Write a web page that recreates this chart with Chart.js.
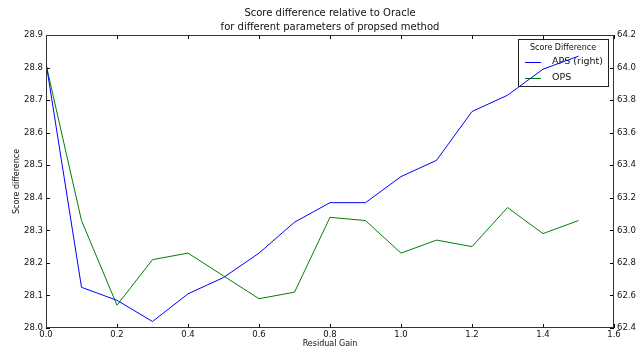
<!DOCTYPE html>
<html>
<head>
<meta charset="utf-8">
<script src="https://cdn.jsdelivr.net/npm/chart.js@4/dist/chart.umd.min.js"></script>
<style>
  html, body { margin: 0; padding: 0; background: #fff; }
  #wrap { width: 644px; height: 349px; }
</style>
</head>
<body>
<div id="wrap"><canvas id="chart"></canvas></div>
<script>
// values
const gains = [0.0, 0.1, 0.2, 0.3, 0.4, 0.5, 0.6, 0.7, 0.8, 0.9, 1.0, 1.1, 1.2, 1.3, 1.4, 1.5];
const aps = [64.03, 62.65, 62.57, 62.44, 62.61, 62.71, 62.86, 63.05, 63.17, 63.17, 63.33, 63.43, 63.73, 63.83, 63.99, 64.07];
const ops = [28.81, 28.33, 28.07, 28.21, 28.23, 28.16, 28.09, 28.11, 28.34, 28.33, 28.23, 28.27, 28.25, 28.37, 28.29, 28.33];
const legendTitle = 'Score Difference';

const FONT = 'DejaVu Sans';
const pts = (ys) => gains.map((g, i) => ({ x: g, y: ys[i] }));

// matplotlib-ish inward ticks on every side + legend box
const mplBits = {
  id: 'mplBits',
  beforeDatasetsDraw(chart) {
    // legend, upper right (the right-axis line is drawn over it, like twinx)
    const { ctx, chartArea: a } = chart;
    const bx = Math.round(a.right) - 96, by = Math.round(a.top) + 4, bw = 90, bh = 47;
    ctx.save();
    ctx.fillStyle = '#fff';
    ctx.fillRect(bx, by, bw, bh);
    ctx.strokeStyle = '#222';
    ctx.lineWidth = 1;
    ctx.strokeRect(bx + 0.5, by + 0.5, bw, bh);
    ctx.fillStyle = '#111';
    ctx.textBaseline = 'middle';
    ctx.textAlign = 'center';
    ctx.font = '8px ' + FONT;
    ctx.fillText(legendTitle, bx + bw / 2, by + 9);
    ctx.textAlign = 'left';
    ctx.font = '9.5px ' + FONT;
    chart.data.datasets.forEach((ds, i) => {
      const ly = by + 23 + i * 16;
      ctx.strokeStyle = ds.borderColor;
      ctx.beginPath();
      ctx.moveTo(bx + 7, ly + 0.5); ctx.lineTo(bx + 23, ly + 0.5);
      ctx.stroke();
      ctx.fillText(ds.label, bx + 34, ly);
    });
    ctx.restore();
  },
  afterDraw(chart) {
    const { ctx, chartArea: a, scales } = chart;
    ctx.save();
    ctx.strokeStyle = '#000';
    ctx.lineWidth = 1;
    ctx.beginPath();
    scales.x.ticks.forEach(t => {
      const px = Math.round(scales.x.getPixelForValue(t.value)) + 0.5;
      ctx.moveTo(px, a.bottom); ctx.lineTo(px, a.bottom - 4);
      ctx.moveTo(px, a.top); ctx.lineTo(px, a.top + 4);
    });
    scales.y.ticks.forEach(t => {
      const py = Math.round(scales.y.getPixelForValue(t.value)) + 0.5;
      ctx.moveTo(a.left, py); ctx.lineTo(a.left + 4, py);
    });
    scales.y2.ticks.forEach(t => {
      const py = Math.round(scales.y2.getPixelForValue(t.value)) + 0.5;
      ctx.moveTo(a.right, py); ctx.lineTo(a.right - 4, py);
    });
    ctx.stroke();
    // frame
    ctx.strokeStyle = '#333';
    ctx.strokeRect(Math.round(a.left) + 0.5, Math.round(a.top) + 0.5,
      Math.round(a.right - a.left) - 1, Math.round(a.bottom - a.top) - 1);
    ctx.restore();
  }
};

const tickFont = { family: FONT, size: 8.5 };

new Chart(document.getElementById('chart'), {
  type: 'line',
  data: {
    datasets: [
      {
        label: 'APS (right)',
        data: pts(aps),
        yAxisID: 'y2',
        borderColor: '#0000ff',
        borderWidth: 1,
        pointRadius: 0,
        tension: 0,
        fill: false
      },
      {
        label: 'OPS',
        data: pts(ops),
        yAxisID: 'y',
        borderColor: '#008000',
        borderWidth: 1,
        pointRadius: 0,
        tension: 0,
        fill: false
      }
    ]
  },
  options: {
    responsive: true,
    maintainAspectRatio: false,
    animation: false,
    layout: { padding: 0 },
    plugins: {
      legend: { display: false },
      tooltip: { enabled: false },
      title: {
        display: true,
        fullSize: false,
        text: ['Score difference relative to Oracle', 'for different parameters of propsed method'],
        color: '#111',
        font: { family: FONT, size: 10, weight: 'normal', lineHeight: 1.4 },
        padding: { top: 6, bottom: 1 }
      }
    },
    scales: {
      x: {
        type: 'linear',
        min: 0, max: 1.6,
        grid: { display: false, drawTicks: false },
        border: { display: false },
        ticks: {
          stepSize: 0.2,
          color: '#111',
          padding: 2,
          font: tickFont,
          maxRotation: 0,
          callback: v => v.toFixed(1)
        },
        title: {
          display: true,
          text: 'Residual Gain',
          color: '#111',
          font: { family: FONT, size: 8 },
          padding: 0
        },
        afterFit: s => { s.height = 21; }
      },
      y: {
        position: 'left',
        min: 28.0, max: 28.9,
        grid: { display: false, drawTicks: false },
        border: { display: false },
        ticks: {
          stepSize: 0.1,
          color: '#111',
          padding: 3,
          font: tickFont,
          callback: v => v.toFixed(1)
        },
        title: {
          display: true,
          text: 'Score difference',
          color: '#111',
          font: { family: FONT, size: 8 },
          padding: { top: 12, bottom: 0 }
        },
        afterFit: s => { s.width = 46; }
      },
      y2: {
        position: 'right',
        min: 62.4, max: 64.2,
        grid: { display: false, drawTicks: false },
        border: { display: false },
        ticks: {
          stepSize: 0.2,
          color: '#111',
          padding: 3,
          font: tickFont,
          callback: v => v.toFixed(1)
        },
        afterFit: s => { s.width = 30; }
      }
    }
  },
  plugins: [mplBits]
});
</script>
</body>
</html>
